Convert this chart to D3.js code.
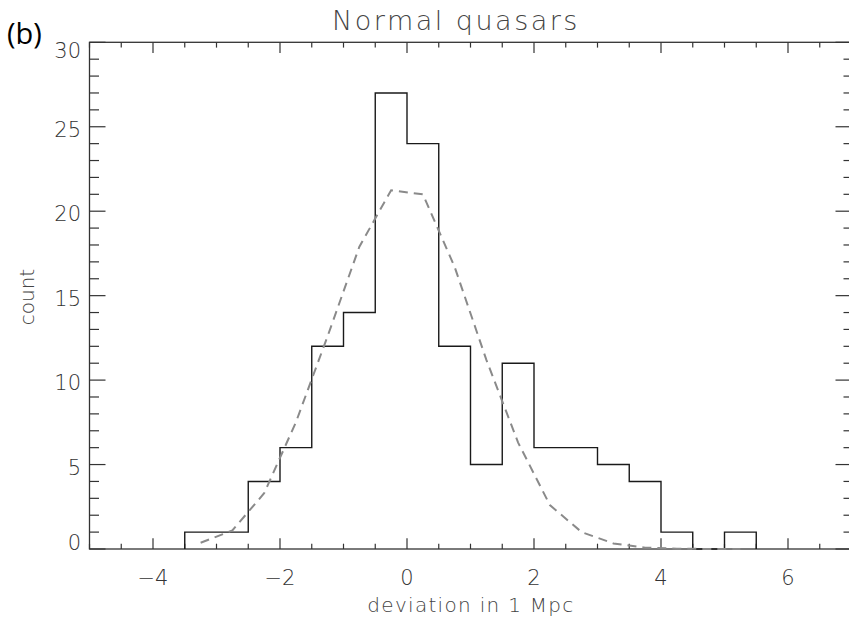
<!DOCTYPE html>
<html><head><meta charset="utf-8">
<script src="https://cdn.jsdelivr.net/npm/d3@7"></script>
<style>body{margin:0;background:#fff}svg{display:block}text.lt{font-family:"DejaVu Sans ExtraLight","DejaVu Sans",sans-serif;font-weight:200}</style>
</head><body><svg id="c" width="849" height="623"></svg>
<script>
// Histogram bins (left edges, width 0.5) and counts
const binStarts = [-3.5,-3,-2.5,-2,-1.5,-1,-0.5,0,0.5,1,1.5,2,2.5,3,3.5,4,4.5,5];
const counts    = [1,1,4,6,12,14,27,24,12,5,11,6,6,5,4,1,0,1];
// Gaussian fit (dashed), sampled at bin centres
const fitX = [-3.25,-2.75,-2.25,-1.75,-1.25,-0.75,-0.25,0.25,0.75,1.25,1.75,2.25,2.75,3.25,3.75,4.25,4.75,5.25];
const fitY = [0.37,1.1,3.3,7.5,12.6,17.9,21.24,21.0,16.7,11.2,6.3,2.6,1.0,0.33,0.08,0.02,0.0,0.0];
const xTickLabels = [-4,-2,0,2,4,6];
const yTickLabels = [0,5,10,15,20,25,30];

const svg = d3.select("#c");
const L=89.5, R=851.5, T=42.3, B=549;
const x = d3.scaleLinear().domain([-5,7]).range([L,R]);
const y = d3.scaleLinear().domain([0,30]).range([B,T]);
const axisCol="#333", txtCol="#333";

svg.append("rect").attr("x",L).attr("y",T).attr("width",R-L).attr("height",B-T)
  .attr("fill","none").attr("stroke",axisCol).attr("stroke-width",1.3);

d3.range(-5,7.01,0.5).forEach(v=>{
  const major = Math.abs(v%2)<1e-9;
  const len = major?10.7:5.3;
  [[B,-1],[T,1]].forEach(([y0,s])=>{
    svg.append("line").attr("x1",x(v)).attr("x2",x(v)).attr("y1",y0).attr("y2",y0+s*len)
      .attr("stroke",axisCol).attr("stroke-width",1.2);
  });
});
d3.range(0,30.01,1).forEach(v=>{
  const major = v%5===0;
  const lenL = major?16:9.5, lenR = major?16:8;
  svg.append("line").attr("x1",L).attr("x2",L+lenL).attr("y1",y(v)).attr("y2",y(v))
    .attr("stroke",axisCol).attr("stroke-width",1.2);
  svg.append("line").attr("x1",R).attr("x2",R-lenR).attr("y1",y(v)).attr("y2",y(v))
    .attr("stroke",axisCol).attr("stroke-width",1.2);
});

svg.selectAll(".xl").data(xTickLabels).join("text").attr("class","lt")
  .attr("x",d=>x(d)).attr("y",585).attr("text-anchor","middle")
  .attr("font-size",21).attr("fill",txtCol)
  .text(d=>d<0?"\u2212"+Math.abs(d):d);
svg.selectAll(".yl").data(yTickLabels).join("text").attr("class","lt")
  .attr("x",81).attr("y",d=>{
    let c = y(d)+2;
    if(d===0) c = B-7; if(d===30) c = T+8;
    return c+8;
  }).attr("text-anchor","end").attr("font-size",21).attr("fill",txtCol)
  .text(d=>d);

const pts=[];
binStarts.forEach((s,i)=>{
  const e=s+0.5;
  if(i===0) pts.push([x(s),y(0)]);
  pts.push([x(s),y(counts[i])]);
  pts.push([x(e),y(counts[i])]);
});
pts.push([x(binStarts[binStarts.length-1]+0.5),y(0)]);
svg.append("path").attr("d",d3.line()(pts)).attr("fill","none")
  .attr("stroke","#1a1a1a").attr("stroke-width",1.4);

svg.append("path").datum(fitX.map((v,i)=>[v,fitY[i]]))
  .attr("d",d3.line().x(d=>x(d[0])).y(d=>y(d[1])))
  .attr("fill","none").attr("stroke","#8a8a8a").attr("stroke-width",2)
  .attr("stroke-dasharray","9,6");

svg.append("text").attr("class","lt").attr("x",456).attr("y",30).attr("text-anchor","middle")
  .attr("font-size",27).attr("letter-spacing",2.5).attr("fill","#444").text("Normal quasars");
svg.append("text").attr("class","lt").attr("x",471).attr("y",612).attr("text-anchor","middle")
  .attr("font-size",20).attr("letter-spacing",1.3).attr("fill","#444").text("deviation in 1 Mpc");
svg.append("text").attr("class","lt").attr("transform","translate(34,297) rotate(-90)").attr("text-anchor","middle")
  .attr("font-size",20).attr("fill","#444").text("count");
svg.append("text").attr("x",7).attr("y",44).attr("font-size",29).attr("font-weight",500)
  .attr("fill","#000").style("font-family","'Open Sans',Arial,sans-serif").text("(b)");
</script></body></html>
